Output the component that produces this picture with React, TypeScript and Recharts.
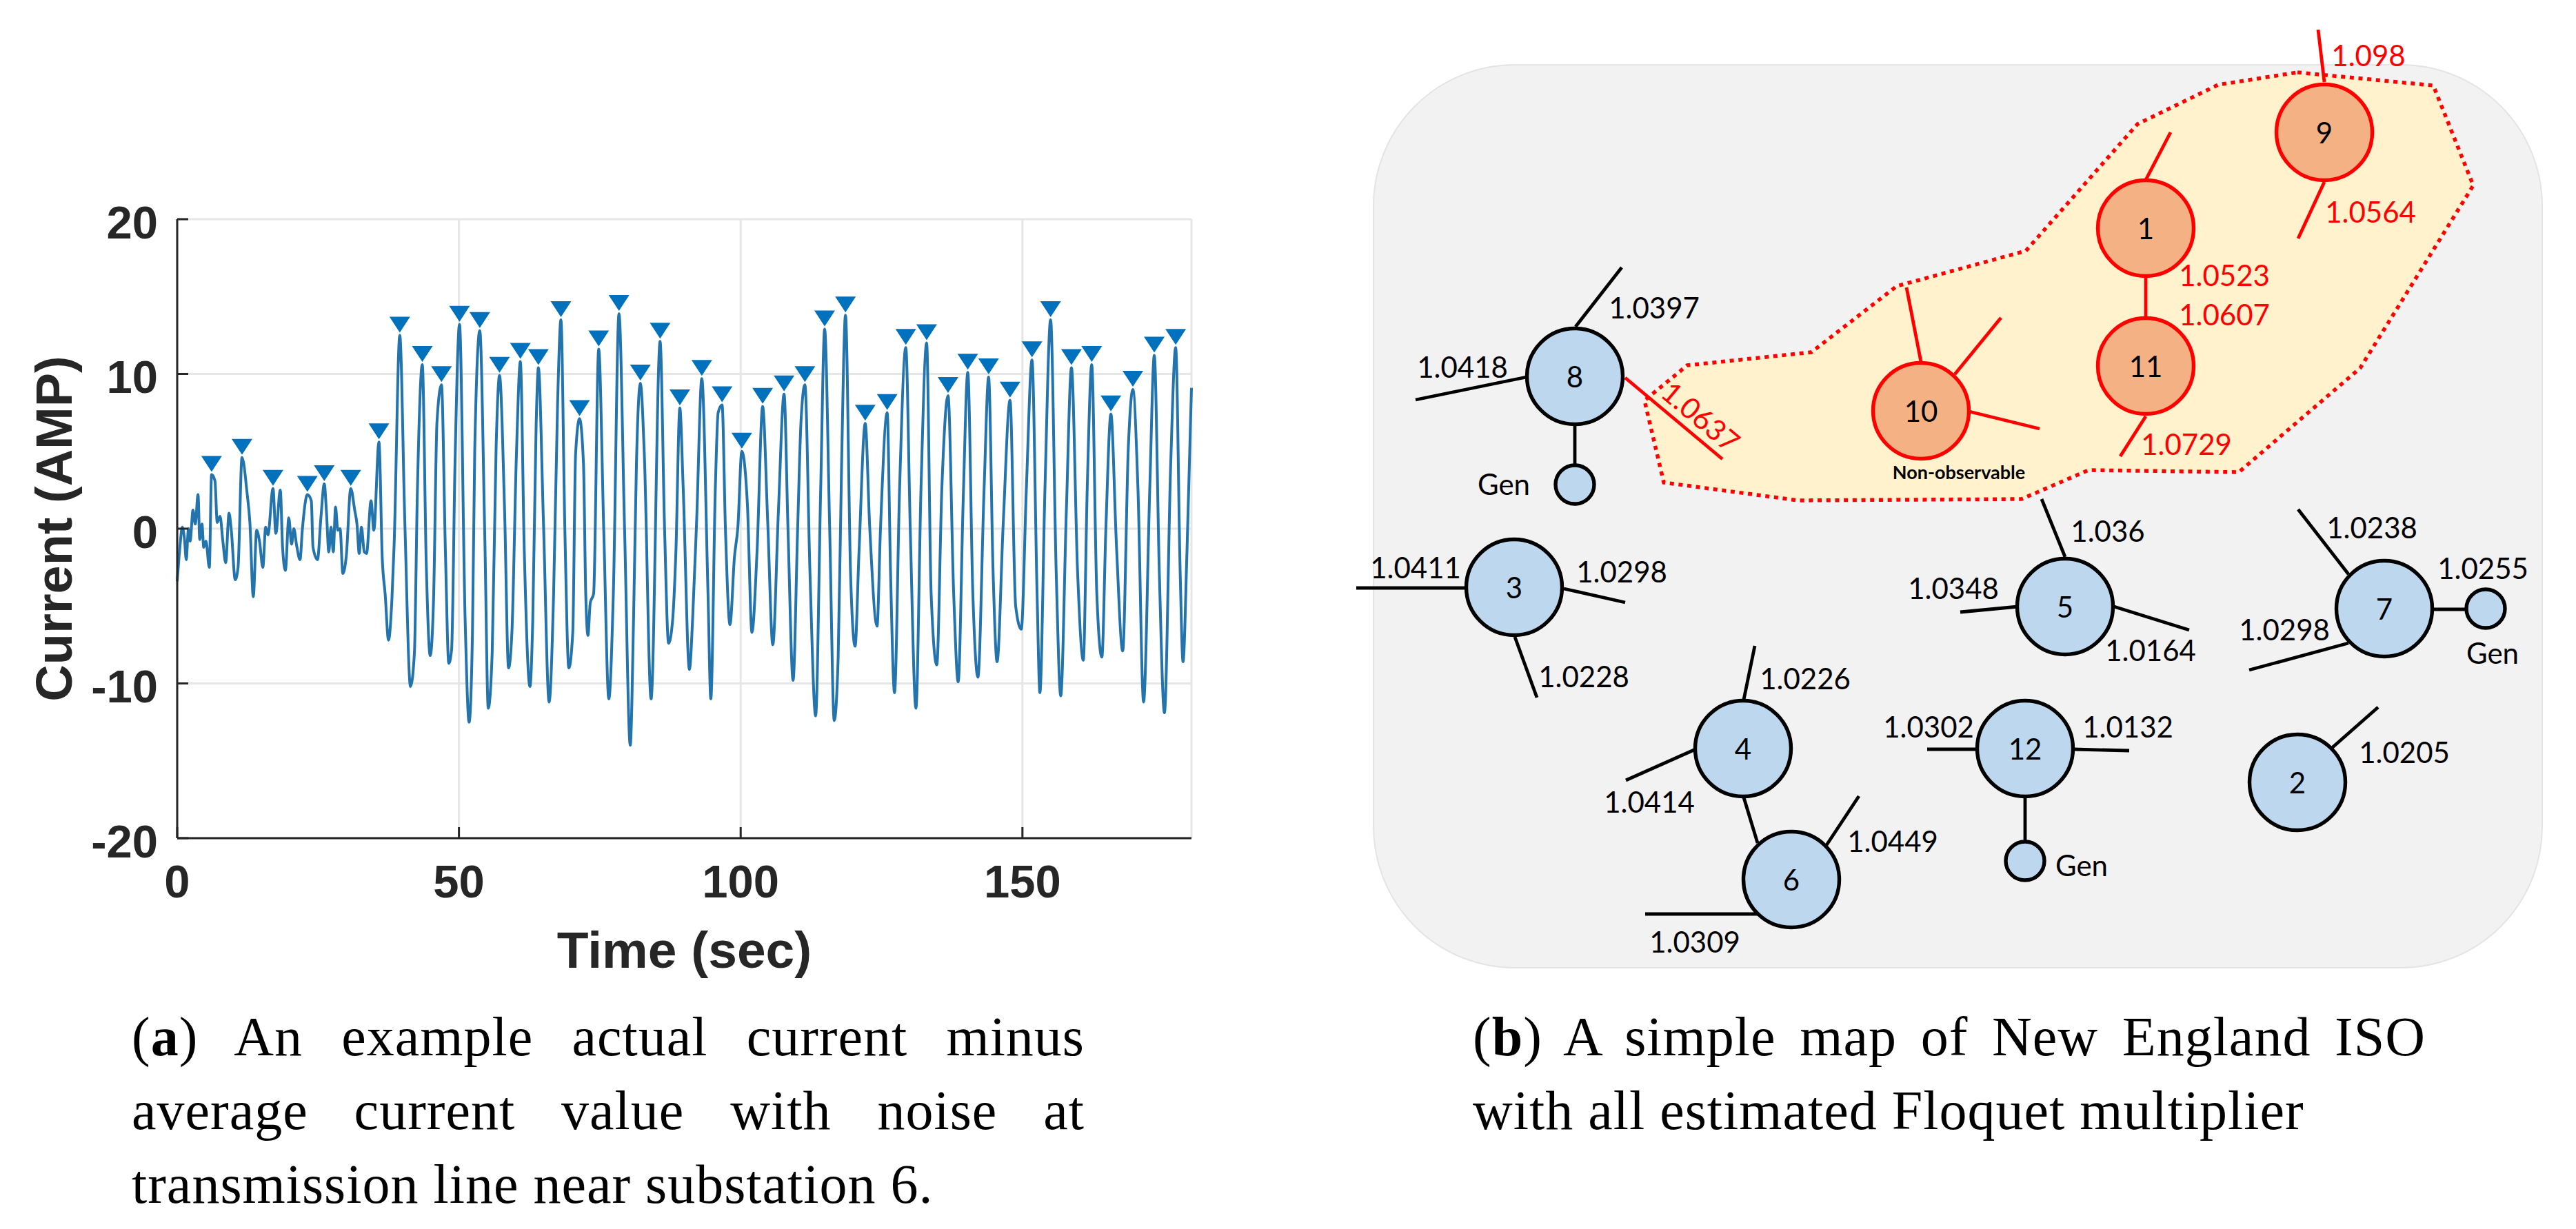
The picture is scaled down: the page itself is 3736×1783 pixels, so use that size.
import {
  ComposedChart, ScatterChart, Line, Scatter, XAxis, YAxis, CartesianGrid, ReferenceArea, Label,
} from 'recharts';

// panel (a): current trace, seconds and amps
const traceTimes = [
  0.0, 0.5, 0.9, 1.3, 1.6, 2.0, 2.3, 2.8, 3.2, 3.7, 4.0, 4.4, 4.7, 5.1, 5.7, 6.1, 6.7, 7.1, 7.6, 8.1,
  8.6, 9.2, 9.6, 10.3, 10.8, 11.5, 12.4, 12.9, 13.5, 14.1, 14.6, 15.2, 15.7, 16.1, 17.0, 17.5, 18.3, 18.7, 19.2, 19.8,
  20.3, 20.7, 21.2, 21.8, 22.2, 23.1, 23.8, 24.1, 24.9, 25.5, 26.1, 26.5, 26.9, 27.3, 27.7, 28.1, 28.5, 28.9, 29.4, 30.0,
  30.8, 31.5, 31.9, 32.3, 32.7, 33.2, 33.6, 34.4, 34.9, 35.8, 36.4, 36.9, 37.5, 38.1, 38.5, 39.5, 40.4, 41.4, 42.1, 42.6,
  43.5, 44.2, 44.9, 45.5, 46.1, 46.9, 47.6, 48.2, 48.7, 49.3, 50.1, 51.1, 51.8, 52.4, 52.8, 53.7, 54.6, 55.2, 55.9, 56.6,
  57.2, 58.1, 58.8, 59.4, 60.2, 60.9, 61.6, 62.6, 63.1, 63.7, 64.1, 65.0, 66.0, 66.8, 67.5, 68.1, 68.8, 69.5, 70.2, 70.7,
  71.4, 72.1, 72.5, 72.9, 73.3, 73.9, 74.8, 75.7, 76.6, 77.4, 78.4, 79.4, 80.4, 81.0, 81.5, 82.2, 82.9, 84.1, 85.7, 86.5,
  87.2, 87.9, 88.5, 89.2, 89.8, 90.9, 91.5, 92.2, 93.1, 94.2, 94.7, 95.5, 96.0, 96.7, 97.3, 98.1, 98.9, 99.5, 100.2, 101.2,
  102.0, 102.9, 103.9, 104.8, 105.7, 106.7, 107.7, 108.4, 109.3, 110.1, 110.7, 111.4, 112.3, 113.3, 114.2, 114.9, 115.8, 116.6, 117.3, 117.9,
  118.6, 119.5, 120.3, 121.0, 122.1, 122.9, 124.2, 124.8, 126.0, 126.6, 127.3, 128.2, 129.3, 130.1, 131.1, 132.0, 133.0, 133.8, 134.8, 135.7,
  136.8, 137.8, 138.6, 139.5, 140.3, 141.2, 142.1, 143.2, 144.0, 144.8, 145.5, 146.6, 147.8, 148.8, 149.8, 150.7, 151.7, 152.6, 153.1, 154.0,
  155.0, 156.0, 156.8, 157.8, 158.7, 159.8, 160.8, 161.5, 162.3, 163.2, 164.1, 164.8, 165.7, 166.7, 167.8, 168.8, 169.6, 170.5, 171.5, 172.6,
  173.4, 174.3, 175.2, 176.3, 177.2, 178.0, 178.5, 179.2, 180.0,
];
const traceValues = [
  -3.4, -1.1, 0.1, -0.7, -2.0, 0, -0.8, 1.2, 0.3, 2.2, -0.7, 0.3, -1.2, -0.8, -2.5, 3.5, 3.1, 0.4, 0.8, -0.8,
  -2.2, 1.0, -0.1, -3.3, -2.5, 4.6, 2.3, 0.4, -4.4, -0.1, -0.8, -2.5, 0.1, -0.4, 2.6, -0.3, 2.5, -1.2, -2.7, 0.7,
  -1.0, 0, -1.1, -2.0, -0.1, 2.2, 1.8, -1.2, -2.0, 0.7, 2.9, 1.0, -1.5, 0.1, -1.5, 1.4, -0.1, 0, -2.9, -1.8,
  2.6, 1.2, 0.3, -1.6, 0.1, -1.5, -1.6, 1.8, -0.1, 5.6, -2.0, -4.2, -7.2, -4.6, -1.0, 12.5, 0.4, -10.2, -8.0, 2.0,
  10.6, -2.3, -8.2, -4.5, 6.9, 9.3, -1.5, -8.7, -7.8, 4.2, 13.2, -5.9, -12.5, -6.7, 5.0, 12.8, -0.7, -11.6, -8.0, 5.3,
  9.9, 1.2, -9.0, -6.7, 4.8, 10.8, -1.5, -10.2, -5.9, 6.7, 10.4, 0.4, -11.2, -4.2, 8.0, 13.5, -0.1, -9.0, -6.7, 4.8,
  7.1, 4.2, -4.2, -6.9, -4.8, -4.2, 11.6, -0.1, -11.0, -4.2, 13.9, -0.1, -14.0, -5.6, 4.2, 9.4, 4.8, -11.0, 12.1, -0.1,
  -7.4, -6.0, -1.5, 7.8, 2.6, -9.1, -5.6, 0.7, 9.7, -4.2, -11.0, 2.6, 7.5, 8.0, -0.1, -6.2, -1.8, 0.1, 5.0, 1.5,
  -6.7, -1.5, 7.9, 0.4, -7.5, 1.2, 8.7, -0.1, -9.8, -0.1, 6.9, 9.3, -2.9, -12.1, 2.6, 12.9, -0.1, -12.4, -8.3, 4.0,
  13.8, -2.9, -7.6, -1.5, 6.8, 0.1, -6.3, -0.1, 7.5, -2.9, -10.6, 2.6, 11.7, -0.1, -11.6, 2.6, 12.0, -4.2, -8.8, 2.6,
  8.6, -4.2, -9.9, 2.0, 10.1, -4.2, -9.6, 2.6, 9.8, -2.9, -8.6, 0.4, 8.3, -5.0, -6.5, 2.6, 10.9, -4.2, -10.6, 2.6,
  13.5, -2.9, -10.8, 1.2, 10.4, -2.9, -8.5, 2.6, 10.6, -4.2, -8.3, -0.1, 7.4, -1.2, -7.9, 5.3, 9.0, 2.6, -11.2, 2.6,
  11.2, -2.9, -11.9, 4.0, 11.7, -2.9, -8.6, -1.5, 9.1,
];
const peakTimes = [
  6.1, 11.5, 17.0, 23.1, 26.1, 30.8, 35.8, 39.5, 43.5, 46.9, 50.1, 53.7, 57.2, 60.9, 64.1, 68.1, 71.4, 74.8, 78.4, 82.2, 85.7, 89.2, 93.1,
  96.7, 100.2, 103.9, 107.7, 111.4, 114.9, 118.6, 122.1, 126.0, 129.3, 133.0, 136.8, 140.3, 144.0, 147.8, 151.7, 155.0, 158.7, 162.3, 165.7, 169.6, 173.4, 177.2,
];
const peakValues = [
  3.5, 4.6, 2.6, 2.2, 2.9, 2.6, 5.6, 12.5, 10.6, 9.3, 13.2, 12.8, 9.9, 10.8, 10.4, 13.5, 7.1, 11.6, 13.9, 9.4, 12.1, 7.8, 9.7,
  8.0, 5.0, 7.9, 8.7, 9.3, 12.9, 13.8, 6.8, 7.5, 11.7, 12.0, 8.6, 10.1, 9.8, 8.3, 10.9, 13.5, 10.4, 10.6, 7.4, 9.0, 11.2, 11.7,
];
const timeTicks = [0, 50, 100, 150];
const currentTicks = [-20, -10, 0, 10, 20];

// panel (b): the network map, in the picture's own coordinates
const redNodes = [
  { id: '9', x: 3371, y: 192 }, { id: '1', x: 3112, y: 331 }, { id: '11', x: 3112, y: 531 }, { id: '10', x: 2786, y: 596 },
];
const blueNodes = [
  { id: '8', x: 2284, y: 546 }, { id: '3', x: 2196, y: 852 }, { id: '5', x: 2995, y: 880 }, { id: '7', x: 3458, y: 883 },
  { id: '4', x: 2528, y: 1086 }, { id: '12', x: 2937, y: 1086 }, { id: '2', x: 3332, y: 1135 }, { id: '6', x: 2598, y: 1276 },
];
const genNodes = [{ x: 2284, y: 703 }, { x: 3605, y: 883 }, { x: 2937, y: 1249 }];

const redEdges = [
  [3362, 43, 3371, 119], [3371, 264, 3333, 346], [3148, 192, 3112, 261], [3112, 403, 3112, 461],
  [3112, 604, 3075, 662], [2765, 417, 2786, 525], [2902, 461, 2835, 543], [2357, 548, 2498, 666],
  [2856, 597, 2958, 622],
];
const blackEdges = [
  [2352, 388, 2285, 474], [2284, 617, 2284, 674], [2961, 724, 2995, 808], [3333, 739, 3406, 833],
  [2197, 924, 2229, 1012], [2545, 937, 2529, 1015], [2358, 1132, 2459, 1087], [2529, 1157, 2549, 1223],
  [2696, 1155, 2649, 1226], [2937, 1157, 2937, 1220], [3449, 1026, 3382, 1085], [3066, 880, 3175, 914],
  [3262, 972, 3406, 933], [2053, 580, 2214, 547], [2843, 888, 2927, 880], [3527, 884, 3577, 884],
  [1967, 853, 2126, 853], [2268, 854, 2357, 874], [2386, 1326, 2549, 1326], [2795, 1087, 2867, 1087],
  [3007, 1087, 3088, 1089],
];

const regionOutline = [
  { x: 3332, y: 105 }, { x: 3529, y: 124 }, { x: 3587, y: 269 }, { x: 3423, y: 534 }, { x: 3247, y: 685 },
  { x: 3029, y: 682 }, { x: 2932, y: 724 }, { x: 2608, y: 726 }, { x: 2413, y: 700 }, { x: 2385, y: 581 },
  { x: 2447, y: 530 }, { x: 2627, y: 511 }, { x: 2751, y: 415 }, { x: 2938, y: 364 }, { x: 3100, y: 180 },
  { x: 3217, y: 123 }, { x: 3332, y: 105 },
];

const redLabels = [
  { text: '1.098', x: 3435, y: 80 }, { text: '1.0564', x: 3438, y: 307 }, { text: '1.0523', x: 3226, y: 399 },
  { text: '1.0607', x: 3226, y: 456 }, { text: '1.0729', x: 3171, y: 644 },
];
const tiltedLabels = [{ text: '1.0637', x: 2467, y: 604 }];
const blackLabels = [
  { text: '1.0397', x: 2399, y: 446 }, { text: '1.0418', x: 2121, y: 532 }, { text: 'Gen', x: 2181, y: 702 },
  { text: '1.036', x: 3057, y: 770 }, { text: '1.0238', x: 3440, y: 765 }, { text: '1.0255', x: 3601, y: 824 },
  { text: '1.0411', x: 2053, y: 823 }, { text: '1.0298', x: 2352, y: 829 }, { text: '1.0348', x: 2833, y: 853 },
  { text: '1.0298', x: 3313, y: 913 }, { text: '1.0164', x: 3119, y: 943 }, { text: 'Gen', x: 3615, y: 947 },
  { text: '1.0228', x: 2297, y: 981 }, { text: '1.0226', x: 2618, y: 984 }, { text: '1.0302', x: 2797, y: 1054 },
  { text: '1.0132', x: 3086, y: 1054 }, { text: '1.0205', x: 3487, y: 1091 }, { text: '1.0414', x: 2392, y: 1163 },
  { text: '1.0449', x: 2745, y: 1220 }, { text: 'Gen', x: 3019, y: 1255 }, { text: '1.0309', x: 2458, y: 1366 },
];
const noteLabels = [{ text: 'Non-observable', x: 2841, y: 684 }];

const trace = traceTimes.map((t, i) => ({ t, v: traceValues[i] }));
const peaks = peakTimes.map((t, i) => ({ t, v: peakValues[i] }));

const axisFont = { fontFamily: 'Liberation Sans', fontWeight: 700, fill: '#262626' };
const mapFont = 'Lato';
const captionStyle: React.CSSProperties = {
  position: 'absolute',
  fontFamily: 'Liberation Serif',
  fontSize: 80,
  letterSpacing: 1,
  lineHeight: '107px',
  color: '#000',
  whiteSpace: 'nowrap',
};

const PeakMarker = ({ cx, cy }: any) => (
  <polygon points={`${cx - 15},${cy - 27} ${cx + 15},${cy - 27} ${cx},${cy - 4}`} fill="#0072BD" />
);

const noDot = () => null;

const circle = (r: number, fill: string, stroke: string) => ({ cx, cy, payload }: any) => (
  <g>
    <circle cx={cx} cy={cy} r={r} fill={fill} stroke={stroke} strokeWidth={5.4} />
    {payload.id && (
      <text x={cx} y={cy} textAnchor="middle" dominantBaseline="central" fontFamily={mapFont} fontSize={42} fill="#000">
        {payload.id}
      </text>
    )}
  </g>
);

const textShape = (color: string, size = 42, weight = 400, angle = 0) => ({ cx, cy, payload }: any) => (
  <text
    x={cx}
    y={cy}
    textAnchor="middle"
    dominantBaseline="central"
    fontFamily={mapFont}
    fontSize={size}
    fontWeight={weight}
    fill={color}
    transform={angle ? `rotate(${angle} ${cx} ${cy})` : undefined}
  >
    {payload.text}
  </text>
);

const segment = (e: number[]) => [{ x: e[0], y: e[1] }, { x: e[2], y: e[3] }];

const edgeSeries = (edges: number[][], stroke: string, name: string) =>
  edges.map((e, i) => (
    <Scatter
      key={`${name}-${i}`}
      data={segment(e)}
      line={{ stroke, strokeWidth: 4.8 }}
      shape={noDot}
      isAnimationActive={false}
    />
  ));

export default function App() {
  return (
    <div style={{ position: 'absolute', left: 0, top: 0, width: 3736, height: 1783, background: '#fff', overflow: 'hidden' }}>
      <div style={{ position: 'absolute', left: 0, top: 0 }}>
        <ComposedChart width={1760} height={1450} margin={{ top: 318, right: 32, bottom: 0, left: 0 }}>
          <CartesianGrid stroke="#e6e6e6" strokeWidth={3} />
          <XAxis
            type="number"
            dataKey="t"
            domain={[0, 180]}
            ticks={timeTicks}
            interval={0}
            height={234}
            allowDuplicatedCategory={false}
            stroke="#262626"
            strokeWidth={3}
            tickSize={-16}
            tickMargin={54}
            tick={{ ...axisFont, fontSize: 67 }}
          >
            <Label value="Time (sec)" position="insideBottom" offset={46} style={{ ...axisFont, fontSize: 75 }} />
          </XAxis>
          <YAxis
            type="number"
            dataKey="v"
            domain={[-20, 20]}
            ticks={currentTicks}
            interval={0}
            width={257}
            stroke="#262626"
            strokeWidth={3}
            tickSize={-16}
            tickMargin={44}
            tick={{ ...axisFont, fontSize: 67, dy: 4 }}
          >
            <Label
              value="Current (AMP)"
              angle={-90}
              position="insideLeft"
              offset={78}
              style={{ ...axisFont, fontSize: 74, textAnchor: 'middle' }}
            />
          </YAxis>
          <Line
            data={trace}
            dataKey="v"
            type="monotoneX"
            stroke="#2373ad"
            strokeWidth={4}
            dot={false}
            activeDot={false}
            isAnimationActive={false}
          />
          <Scatter data={peaks} shape={PeakMarker} isAnimationActive={false} />
        </ComposedChart>
      </div>

      <div style={{ position: 'absolute', left: 1950, top: 20 }}>
        <ScatterChart width={1786} height={1420} margin={{ top: 0, right: 0, bottom: 0, left: 0 }}>
          <XAxis type="number" dataKey="x" domain={[1950, 3736]} hide />
          <YAxis type="number" dataKey="y" domain={[20, 1440]} reversed hide />
          <ReferenceArea x1={1992} x2={3687} y1={94} y2={1404} fill="#F2F2F2" fillOpacity={1} stroke="#e4e4e4" strokeWidth={2} radius={205} />
          <Scatter
            data={regionOutline}
            line={{ stroke: '#FF0000', strokeWidth: 5.5, strokeDasharray: '6 6.7', fill: '#FFF2CC' }}
            shape={noDot}
            isAnimationActive={false}
          />
          {edgeSeries(redEdges, '#FF0000', 'red')}
          {edgeSeries(blackEdges, '#000', 'black')}
          <Scatter data={redNodes} shape={circle(69.5, '#F4B183', '#FF0000')} isAnimationActive={false} />
          <Scatter data={blueNodes} shape={circle(69.5, '#BDD7EE', '#000')} isAnimationActive={false} />
          <Scatter data={genNodes} shape={circle(28, '#BDD7EE', '#000')} isAnimationActive={false} />
          <Scatter data={redLabels} shape={textShape('#FF0000')} isAnimationActive={false} />
          <Scatter data={tiltedLabels} shape={textShape('#FF0000', 42, 400, 40)} isAnimationActive={false} />
          <Scatter data={blackLabels} shape={textShape('#000')} isAnimationActive={false} />
          <Scatter data={noteLabels} shape={textShape('#000', 27, 700)} isAnimationActive={false} />
        </ScatterChart>
      </div>

      <div style={{ ...captionStyle, left: 191, top: 1451, width: 1382, textAlign: 'justify', textAlignLast: 'justify' }}>
        (<b>a</b>) An example actual current minus
      </div>
      <div style={{ ...captionStyle, left: 191, top: 1558, width: 1382, textAlign: 'justify', textAlignLast: 'justify' }}>
        average current value with noise at
      </div>
      <div style={{ ...captionStyle, left: 191, top: 1665 }}>transmission line near substation 6.</div>
      <div style={{ ...captionStyle, left: 2136, top: 1451, width: 1382, textAlign: 'justify', textAlignLast: 'justify' }}>
        (<b>b</b>) A simple map of New England ISO
      </div>
      <div style={{ ...captionStyle, left: 2136, top: 1558 }}>with all estimated Floquet multiplier</div>
    </div>
  );
}
